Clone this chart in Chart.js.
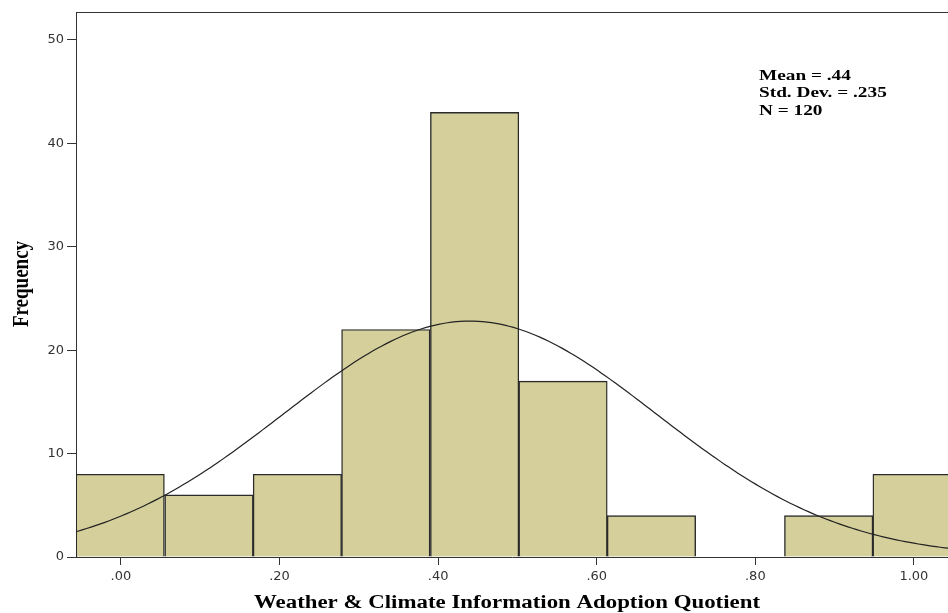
<!DOCTYPE html>
<html>
<head>
<meta charset="utf-8">
<script src="https://cdn.jsdelivr.net/npm/chart.js@4"></script>
<style>
  html, body { margin: 0; padding: 0; background: #fff; }
  #wrap { width: 948px; height: 613px; }
</style>
</head>
<body>
<div id="wrap"><canvas id="hist"></canvas></div>
<script>
// ===== Data =====
const binEdges = [-0.057, 0.055, 0.167, 0.278, 0.390, 0.502, 0.613, 0.725, 0.837, 0.948, 1.060];
const counts   = [8, 6, 8, 22, 43, 17, 4, 0, 4, 8];
const xTicks   = [0, 0.2, 0.4, 0.6, 0.8, 1.0];
const yTicks   = [0, 10, 20, 30, 40, 50];
const statLines = ['Mean = .44', 'Std. Dev. = .235', 'N = 120'];
const xTitle = 'Weather & Climate Information Adoption Quotient';
const yTitle = 'Frequency';

// stats used for the normal curve overlay
const mean = 0.44;
const sd   = 0.235;
const n    = 120;

const binWidth = binEdges[1] - binEdges[0];
const barPoints = counts.map((c, i) => ({ x: (binEdges[i] + binEdges[i + 1]) / 2, y: c }));

// normal curve scaled to counts
const curvePoints = [];
for (let i = 0; i <= 200; i++) {
  const x = -0.06 + i * (1.11 / 200);
  const z = (x - mean) / sd;
  curvePoints.push({ x: x, y: n * binWidth * Math.exp(-0.5 * z * z) / (sd * Math.sqrt(2 * Math.PI)) });
}

const frameColor = '#333';
const serif = "'Liberation Serif', 'Times New Roman', serif";

// ===== Plugin: top frame line, titles, stats text (the source image is a bit wide) =====
const extras = {
  id: 'extras',
  afterDraw(chart) {
    const { ctx, chartArea } = chart;
    ctx.save();
    ctx.strokeStyle = frameColor;
    ctx.lineWidth = 1;
    ctx.beginPath();
    ctx.moveTo(chartArea.left, chartArea.top + 0.5);
    ctx.lineTo(chartArea.right, chartArea.top + 0.5);
    ctx.stroke();

    ctx.fillStyle = '#000';
    ctx.textBaseline = 'middle';

    // stats box
    ctx.font = 'bold 14.5px ' + serif;
    ctx.textAlign = 'left';
    statLines.forEach((t, i) => {
      ctx.save();
      ctx.translate(759, 76 + i * 17.5);
      ctx.scale(1.33, 1);
      ctx.fillText(t, 0, 0);
      ctx.restore();
    });

    // x title
    ctx.font = 'bold 18px ' + serif;
    ctx.textAlign = 'center';
    ctx.save();
    ctx.translate(507, 603);
    ctx.scale(1.27, 1);
    ctx.fillText(xTitle, 0, 0);
    ctx.restore();

    // y title
    ctx.font = 'bold 19px ' + serif;
    ctx.save();
    ctx.translate(22, 284);
    ctx.scale(1.2, 1);
    ctx.rotate(-Math.PI / 2);
    ctx.fillText(yTitle, 0, 0);
    ctx.restore();

    ctx.restore();
  }
};

new Chart(document.getElementById('hist'), {
  type: 'bar',
  data: {
    datasets: [
      {
        type: 'line',
        data: curvePoints,
        borderColor: '#222',
        borderWidth: 1.2,
        pointRadius: 0,
        fill: false,
        tension: 0,
        order: 0,
      },
      {
        data: barPoints,
        backgroundColor: '#d4cf9b',
        borderColor: '#2a2a2a',
        borderWidth: 1.4,
        borderSkipped: 'bottom',
        barPercentage: 1,
        categoryPercentage: 1,
        order: 1,
      },
    ],
  },
  options: {
    responsive: true,
    maintainAspectRatio: false,
    animation: false,
    layout: { padding: { top: 12, right: 0, left: 0, bottom: 0 } },
    plugins: {
      legend: { display: false },
      tooltip: { enabled: false },
    },
    scales: {
      x: {
        type: 'linear',
        offset: false,
        min: -0.0567,
        max: 1.043,
        afterBuildTicks: s => { s.ticks = xTicks.map(v => ({ value: v })); },
        afterFit: s => { s.height = 56; },
        grid: { offset: false, drawOnChartArea: false, drawTicks: true, tickLength: 8, color: frameColor },
        border: { display: true, color: frameColor, width: 1 },
        ticks: {
          color: '#333',
          padding: 4,
          maxRotation: 0,
          font: { family: "'DejaVu Sans', sans-serif", size: 13 },
          callback: v => v.toFixed(2).replace(/^0/, ''),
        },
      },
      y: {
        min: 0,
        max: 52.7,
        afterBuildTicks: s => { s.ticks = yTicks.map(v => ({ value: v })); },
        afterFit: s => { s.width = 76; },
        grid: { drawOnChartArea: false, drawTicks: true, tickLength: 9, color: frameColor },
        border: { display: true, color: frameColor, width: 1 },
        ticks: {
          color: '#333',
          padding: 3,
          font: { family: "'DejaVu Sans', sans-serif", size: 13 },
        },
      },
    },
  },
  plugins: [extras],
});
</script>
</body>
</html>
